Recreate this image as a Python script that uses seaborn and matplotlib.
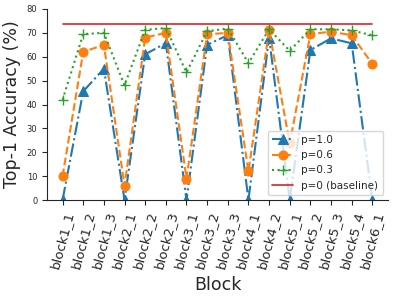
import numpy as np
import matplotlib
matplotlib.use("Agg")
import matplotlib.pyplot as plt
import seaborn as sns

sns.set_style("ticks")

''' Data read from the figure '''
blocks = ['block1_1', 'block1_2', 'block1_3', 'block2_1', 'block2_2', 'block2_3',
          'block3_1', 'block3_2', 'block3_3', 'block4_1', 'block4_2', 'block5_1',
          'block5_2', 'block5_3', 'block5_4', 'block6_1']
acc_p10 = [0, 45.5, 55, 0, 61, 65.7, 0, 65, 69, 0, 68, 0, 62.8, 67.7, 65.6, 0]
acc_p06 = [10, 62, 65, 6, 68, 70, 9, 69.4, 70, 12, 71.2, 23.7, 69.5, 70.5, 69, 57]
acc_p03 = [42, 69.5, 70, 48, 71.3, 72, 53.4, 70.7, 71.8, 57.3, 71.5, 62.5, 71.5, 71.5, 71, 69]
baseline = 73.6

x = np.arange(len(blocks))

fig, ax = plt.subplots(figsize=(3.99, 2.99), dpi=100)
fig.subplots_adjust(left=0.118, right=0.972, bottom=0.331, top=0.970)

sns.lineplot(x=x, y=acc_p10, ax=ax, color='tab:blue', marker='^', markersize=6.5,
             linestyle='-.', linewidth=1.5, markeredgecolor='tab:blue', label='p=1.0')
sns.lineplot(x=x, y=acc_p06, ax=ax, color='tab:orange', marker='o', markersize=6.5,
             linestyle='--', linewidth=1.5, markeredgecolor='tab:orange', label='p=0.6')
sns.lineplot(x=x, y=acc_p03, ax=ax, color='tab:green', marker='+', markersize=7,
             linestyle=':', linewidth=1.5, markeredgecolor='tab:green',
             markeredgewidth=1.0, label='p=0.3')
sns.lineplot(x=x, y=[baseline] * len(blocks), ax=ax, color='tab:red',
             linewidth=1.2, label='p=0 (baseline)')

ax.set_ylim(0, 80)
ax.set_xticks(x)
ax.set_xticklabels(blocks, rotation=75, fontsize=9.5)
ax.tick_params(axis='y', labelsize=6)
ax.set_xlabel('Block', fontsize=12.5)
ax.set_ylabel('Top-1 Accuracy (%)', fontsize=12.5)
sns.despine(ax=ax)
ax.legend(loc='lower right', fontsize=7.5, framealpha=0.8)

plt.savefig('out.png', dpi=100)
plt.close()
